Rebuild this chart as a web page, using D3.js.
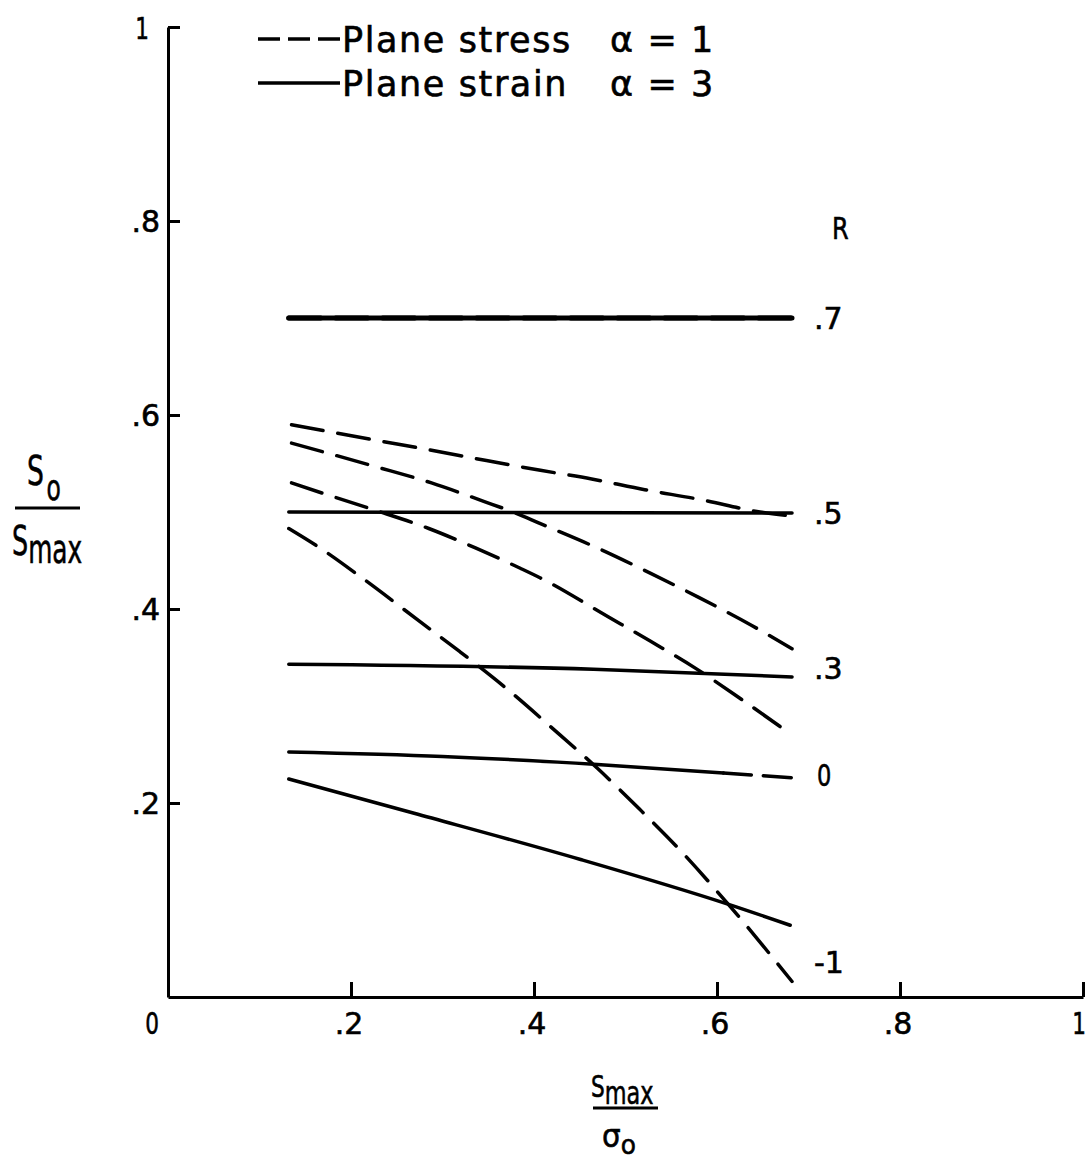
<!DOCTYPE html>
<html><head><meta charset="utf-8">
<script src="https://cdn.jsdelivr.net/npm/d3@7"></script>
<style>
body{margin:0;background:#fff}
text{font-family:"DejaVu Sans",sans-serif;fill:#000;stroke:#000;stroke-width:0.6px}
</style>
</head><body>
<svg id="c" width="1091" height="1168"></svg>
<script>
// ---- tick values / labels ----
const xTicks = [0, 0.2, 0.4, 0.6, 0.8, 1];
const xTickLabels = ["0", ".2", ".4", ".6", ".8", "1"];
const yTicks = [0.2, 0.4, 0.6, 0.8, 1];
const yTickLabels = [".2", ".4", ".6", ".8", "1"];

// ---- plane stress (alpha = 1), dashed: [Smax/sigma0, So/Smax] ----
const stressR07 = [[0.132, 0.700], [0.682, 0.700]];
const stressR05 = [[0.135, 0.590], [0.221, 0.575], [0.286, 0.564], [0.348, 0.553], [0.407, 0.543], [0.463, 0.534], [0.521, 0.523], [0.581, 0.513], [0.647, 0.500], [0.680, 0.496]];
const stressR03 = [[0.135, 0.571], [0.226, 0.547], [0.288, 0.530], [0.345, 0.511], [0.377, 0.500], [0.407, 0.488], [0.469, 0.463], [0.527, 0.437], [0.580, 0.412], [0.638, 0.383], [0.682, 0.359]];
const stressR0 = [[0.135, 0.530], [0.170, 0.519], [0.226, 0.502], [0.285, 0.483], [0.336, 0.463], [0.385, 0.442], [0.407, 0.432], [0.481, 0.392], [0.527, 0.367], [0.578, 0.338], [0.625, 0.308], [0.682, 0.270]];
const stressRm1 = [[0.132, 0.483], [0.166, 0.463], [0.215, 0.430], [0.274, 0.388], [0.319, 0.356], [0.370, 0.318], [0.419, 0.278], [0.469, 0.236], [0.515, 0.194], [0.561, 0.150], [0.611, 0.097], [0.682, 0.016]];

// ---- plane strain (alpha = 3), solid ----
const strainR07 = [[0.132, 0.700], [0.682, 0.700]];
const strainR05 = [[0.132, 0.500], [0.682, 0.499]];
const strainR03 = [[0.132, 0.343], [0.465, 0.338], [0.682, 0.330]];
const strainR0 = [[0.132, 0.2526], [0.300, 0.248], [0.465, 0.240], [0.607, 0.231]];
const strainR0Tail = [[0.607, 0.231], [0.682, 0.226]];
const strainRm1 = [[0.132, 0.2247], [0.269, 0.1894], [0.450, 0.142], [0.611, 0.096], [0.680, 0.074]];

// ---- R labels at right ----
const rLabels = ["R", ".7", ".5", ".3", "0", "-1"];
const rLabelY = [0.793, 0.700, 0.499, 0.339, 0.229, 0.036];

const svg = d3.select("#c");
const x = d3.scaleLinear().domain([0, 1]).range([168, 1083]);
const y = d3.scaleLinear().domain([0, 1]).range([997, 27]);

// text helper: horizontal squeeze via transform (narrow lettering look)
function txt(s, px, py, size, sx, anchor) {
  return svg.append("text")
    .attr("transform", `translate(${px},${py}) scale(${sx || 1},1)`)
    .attr("font-size", size).attr("text-anchor", anchor || "start").text(s);
}

// axes
const gx = svg.append("g").attr("transform", "translate(0,997)")
  .call(d3.axisBottom(x).tickValues(xTicks.filter(d => d > 0)).tickSize(-15).tickSizeOuter(0).tickFormat(""));
const gy = svg.append("g").attr("transform", "translate(168,0)")
  .call(d3.axisLeft(y).tickValues(yTicks).tickSize(-12).tickSizeOuter(0).tickFormat(""));
[gx, gy].forEach(g => {
  g.selectAll("path.domain").attr("stroke", "#000").attr("stroke-width", 3);
  g.selectAll(".tick line").attr("stroke", "#000").attr("stroke-width", 3);
});

// tick labels
xTicks.forEach((t, i) => {
  const s = xTickLabels[i];
  let cx = x(t) - 2;
  if (t === 0) cx = x(t) - 16;
  if (t === 1) cx = x(t) - 4;
  txt(s, cx, 1034, 30, s.length === 1 ? 0.72 : 1, "middle");
});
yTicks.forEach((t, i) => {
  const s = yTickLabels[i];
  if (t === 1) txt(s, 149, y(t) + 12, 30, 0.72, "end");
  else txt(s, 160, y(t) + 11, 30, 1, "end");
});

// curves
const line = d3.line().x(d => x(d[0])).y(d => y(d[1])).curve(d3.curveMonotoneX);
const solids = [strainR07, strainR05, strainR03, strainR0, strainRm1];
const dashed = [stressR07, stressR05, stressR03, stressR0, stressRm1, strainR0Tail];
svg.append("g").selectAll("path").data(solids).join("path")
  .attr("d", line).attr("fill", "none").attr("stroke", "#000")
  .attr("stroke-width", (d, i) => i === 0 ? 5 : 3.5).attr("stroke-linecap", "round");
svg.append("g").selectAll("path").data(dashed).join("path")
  .attr("d", line).attr("fill", "none").attr("stroke", "#000")
  .attr("stroke-width", (d, i) => i === 0 ? 5 : 3.5)
  .attr("stroke-dasharray", (d, i) => i === 5 ? "28,12" : "32,15").attr("stroke-linecap", "round");

// R labels
rLabels.forEach((s, i) => {
  const px = s === "R" ? 832 : (s === "0" ? 817 : 814);
  const sx = s === "R" ? 0.8 : (s === "0" ? 0.75 : 1);
  txt(s, px, y(rLabelY[i]) + 11, 30, sx, "start");
});

// legend
svg.append("line").attr("x1", 258).attr("x2", 340).attr("y1", 39).attr("y2", 39)
  .attr("stroke", "#000").attr("stroke-width", 3.5).attr("stroke-dasharray", "22,8");
svg.append("line").attr("x1", 258).attr("x2", 340).attr("y1", 83).attr("y2", 83)
  .attr("stroke", "#000").attr("stroke-width", 3.5);
function legendText(s, px, py) {
  return svg.append("text").attr("x", px).attr("y", py).attr("font-size", 35)
    .attr("letter-spacing", 1.6).attr("stroke-width", 0.9).text(s);
}
legendText("Plane stress", 342, 52);
legendText("α = 1", 610, 52);
legendText("Plane strain", 342, 96);
legendText("α = 3", 610, 96);

// y axis title  S_o / S_max
{
  const t1 = svg.append("text").attr("transform", "translate(27,485) scale(0.65,1)").attr("font-size", 41);
  t1.append("tspan").text("S");
  t1.append("tspan").attr("font-size", 36).attr("dx", 4).attr("dy", 15).text("o");
  svg.append("line").attr("x1", 15).attr("x2", 80).attr("y1", 508).attr("y2", 508)
    .attr("stroke", "#000").attr("stroke-width", 3);
  const t2 = svg.append("text").attr("transform", "translate(12,555) scale(0.62,1)").attr("font-size", 41);
  t2.append("tspan").text("S");
  t2.append("tspan").attr("font-size", 40).attr("dy", 8).text("max");
}
// x axis title  S_max / sigma_o
{
  const t1 = svg.append("text").attr("transform", "translate(591,1097) scale(0.7,1)").attr("font-size", 31);
  t1.append("tspan").text("S");
  t1.append("tspan").attr("font-size", 32).attr("dy", 7).text("max");
  svg.append("line").attr("x1", 593).attr("x2", 658).attr("y1", 1108).attr("y2", 1108)
    .attr("stroke", "#000").attr("stroke-width", 3);
  const t2 = svg.append("text").attr("transform", "translate(602,1147) scale(0.92,1)").attr("font-size", 32);
  t2.append("tspan").text("σ");
  t2.append("tspan").attr("font-size", 27).attr("dy", 7).text("o");
}
</script>
</body></html>
